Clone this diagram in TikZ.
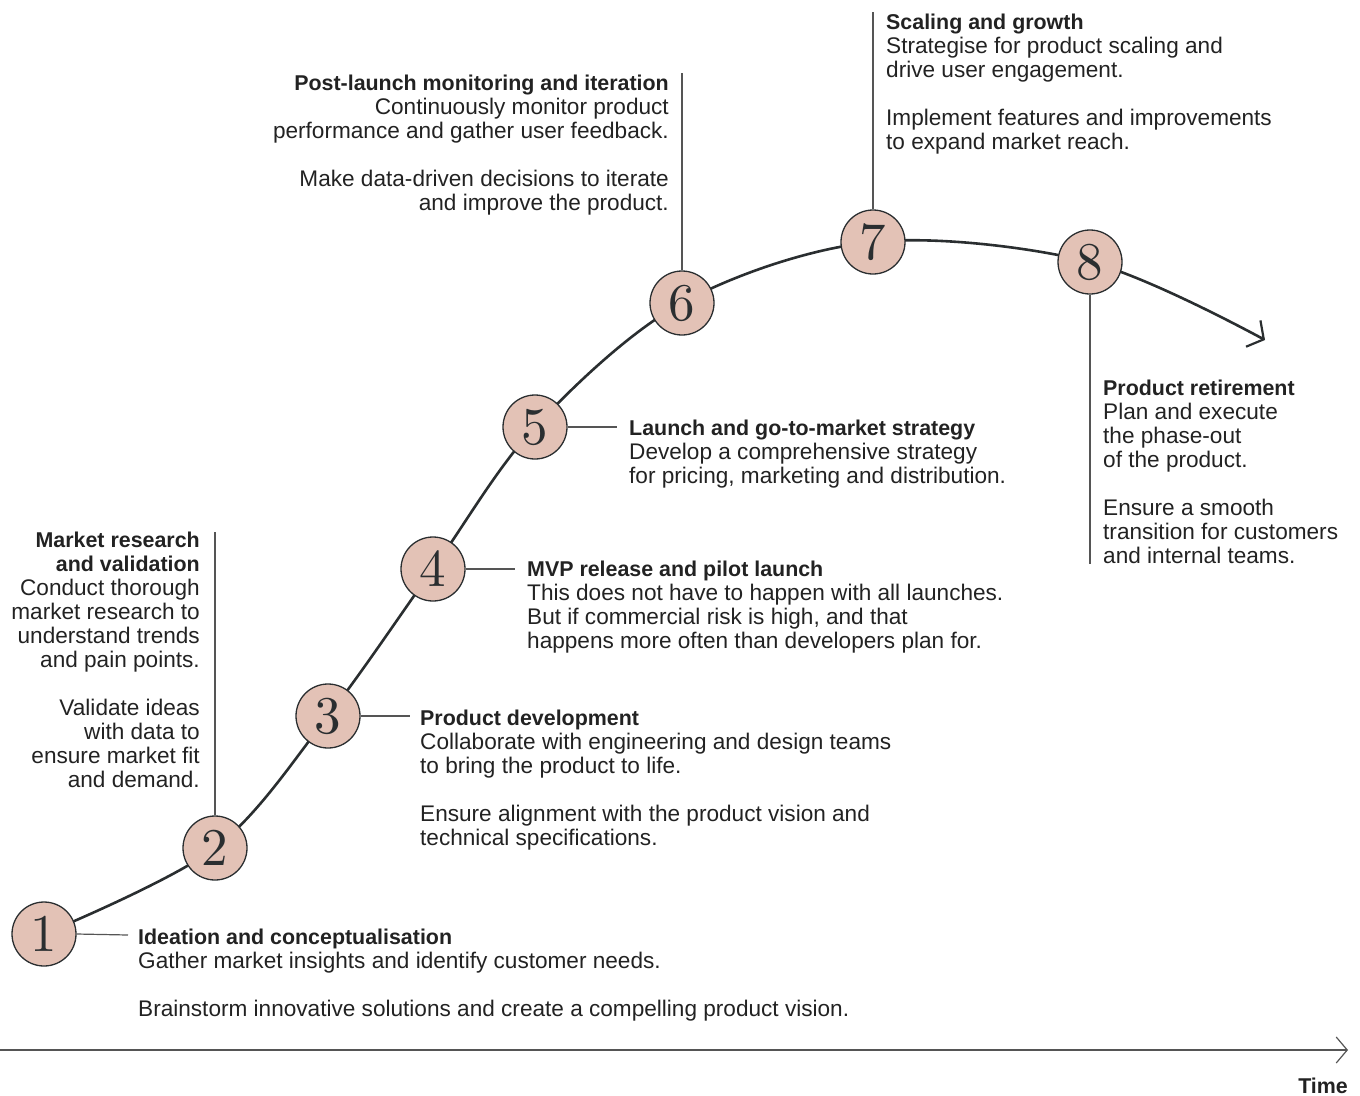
\documentclass[tikz,border=0pt]{standalone}
\usepackage{fontspec}
\setmainfont{Liberation Sans}
\newfontfamily\numfont{lmroman10-regular}[Extension=.otf]
\usetikzlibrary{arrows.meta}
\definecolor{circfill}{HTML}{E3C2B6}
\definecolor{ink}{HTML}{2A2E30}
\definecolor{txt}{HTML}{222222}
\definecolor{lead}{HTML}{555555}
\newcommand{\hd}[1]{{\bfseries\fontsize{21.4}{24}\selectfont #1}}
\begin{document}
\begin{tikzpicture}[x=1pt,y=-1pt,
  stage/.style={circle,draw=ink,line width=1.3pt,fill=circfill,minimum size=64pt,inner sep=0pt,
    font=\numfont\fontsize{53}{53}\selectfont,text=ink},
  desc/.style={inner sep=0pt,text=txt,font=\fontsize{22.6}{24}\selectfont},
  leader/.style={draw=lead,line width=1.2pt},
  curve/.style={draw=ink,line width=2.6pt}]
\useasboundingbox (0,0) rectangle (1360,1095);
\coordinate (p1) at (44,934);
\coordinate (p2) at (215,848);
\coordinate (p3) at (328,716);
\coordinate (p4) at (433,569);
\coordinate (p5) at (535,427);
\coordinate (p6) at (682,303);
\coordinate (p7) at (873,242);
\coordinate (p8) at (1090,262);
\coordinate (pend) at (1265,340);
\draw[curve,-{Straight Barb[length=12pt,width=30pt,line width=2.2pt]}] plot[smooth,tension=0.55] coordinates {(p1) (p2) (p3) (p4) (p5) (p6) (p7) (p8) (pend)};
\foreach \i in {1,...,8} {\node[stage] (c\i) at (p\i) {\i};}
% leader ends
\coordinate (l1) at (128,935);
\coordinate (l2) at (215,532);
\coordinate (l3) at (410,716);
\coordinate (l4) at (515,569);
\coordinate (l5) at (617,427);
\coordinate (l6) at (682,73);
\coordinate (l7) at (873,12);
\coordinate (l8) at (1090,564);
\draw[leader] (c1.east) -- (l1);
\draw[leader] (c2.north) -- (l2);
\draw[leader] (c3.east) -- (l3);
\draw[leader] (c4.east) -- (l4);
\draw[leader] (c5.east) -- (l5);
\draw[leader] (c6.north) -- (l6);
\draw[leader] (c7.north) -- (l7);
\draw[leader] (c8.south) -- (l8);
% texts (base anchor = baseline of last line)
\node[desc,align=left,anchor=base west] (t1) at (138,1016) {\hd{Ideation and conceptualisation}\\Gather market insights and identify customer needs.\\[24pt]Brainstorm innovative solutions and create a compelling product vision.};
\node[desc,align=right,anchor=base east] (t2) at (200,787) {\hd{Market research}\\\hd{and validation}\\Conduct thorough\\market research to\\understand trends\\and pain points.\\[24pt]Validate ideas\\with data to\\ensure market fit\\and demand.};
\node[desc,align=left,anchor=base west] (t3) at (420,845) {\hd{Product development}\\Collaborate with engineering and design teams\\to bring the product to life.\\[24pt]Ensure alignment with the product vision and\\technical specifications.};
\node[desc,align=left,anchor=base west] (t4) at (527,648) {\hd{MVP release and pilot launch}\\This does not have to happen with all launches.\\But if commercial risk is high, and that\\happens more often than developers plan for.};
\node[desc,align=left,anchor=base west] (t5) at (629,483) {\hd{Launch and go-to-market strategy}\\Develop a comprehensive strategy\\for pricing, marketing and distribution.};
\node[desc,align=right,anchor=base east] (t6) at (669,210) {\hd{Post-launch monitoring and iteration}\\Continuously monitor product\\performance and gather user feedback.\\[24pt]Make data-driven decisions to iterate\\and improve the product.};
\node[desc,align=left,anchor=base west] (t7) at (886,149) {\hd{Scaling and growth}\\Strategise for product scaling and\\drive user engagement.\\[24pt]Implement features and improvements\\to expand market reach.};
\node[desc,align=left,anchor=base west] (t8) at (1103,563) {\hd{Product retirement}\\Plan and execute\\the phase-out\\of the product.\\[24pt]Ensure a smooth\\transition for customers\\and internal teams.};
% time axis
\coordinate (a0) at (0,1050);
\coordinate (a1) at (1348,1050);
\draw[lead,line width=1.2pt,-{Straight Barb[length=11pt,width=26pt,line width=1.2pt]}] (a0) -- (a1);
\node[desc,anchor=base east] (time) at (1348,1093) {\hd{Time}};
\end{tikzpicture}
\end{document}
